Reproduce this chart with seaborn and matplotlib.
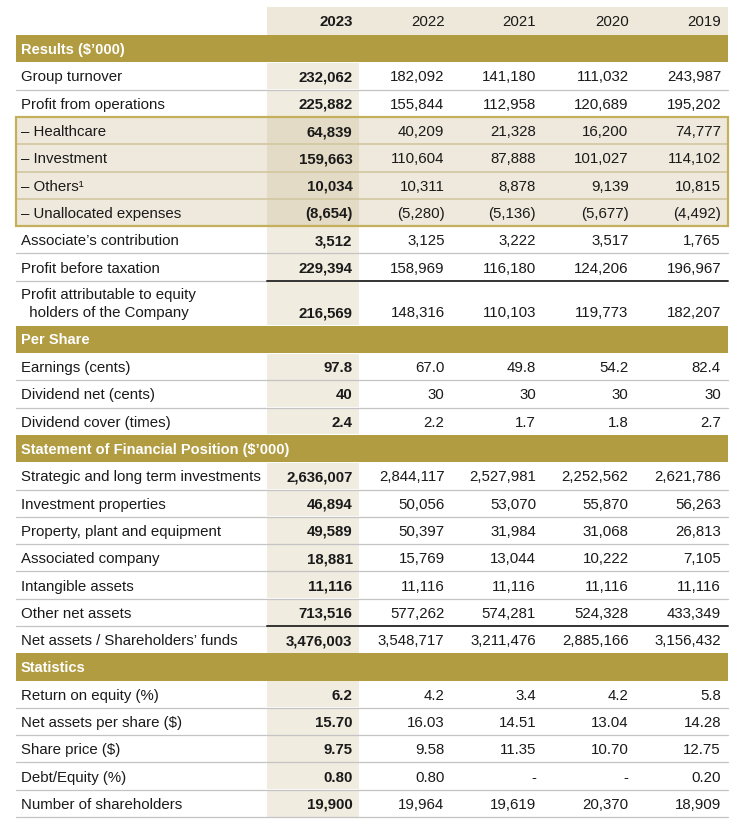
import matplotlib
matplotlib.use("Agg")
import matplotlib.pyplot as plt
from matplotlib.patches import Rectangle
import seaborn as sns

# ---- data ----
years = ["2023", "2022", "2021", "2020", "2019"]

results_labels = ["Group turnover", "Profit from operations", "\u2013 Healthcare", "\u2013 Investment",
                  "\u2013 Others\u00b9", "\u2013 Unallocated expenses", "Associate\u2019s contribution",
                  "Profit before taxation", "Profit attributable to equity\n  holders of the Company"]
results_values = [
    [232062, 182092, 141180, 111032, 243987],
    [225882, 155844, 112958, 120689, 195202],
    [64839, 40209, 21328, 16200, 74777],
    [159663, 110604, 87888, 101027, 114102],
    [10034, 10311, 8878, 9139, 10815],
    [-8654, -5280, -5136, -5677, -4492],
    [3512, 3125, 3222, 3517, 1765],
    [229394, 158969, 116180, 124206, 196967],
    [216569, 148316, 110103, 119773, 182207],
]

per_share_labels = ["Earnings (cents)", "Dividend net (cents)", "Dividend cover (times)"]
per_share_values = [
    [97.8, 67.0, 49.8, 54.2, 82.4],
    [40, 30, 30, 30, 30],
    [2.4, 2.2, 1.7, 1.8, 2.7],
]
per_share_decimals = [1, 0, 1]

position_labels = ["Strategic and long term investments", "Investment properties",
                   "Property, plant and equipment", "Associated company", "Intangible assets",
                   "Other net assets", "Net assets / Shareholders\u2019 funds"]
position_values = [
    [2636007, 2844117, 2527981, 2252562, 2621786],
    [46894, 50056, 53070, 55870, 56263],
    [49589, 50397, 31984, 31068, 26813],
    [18881, 15769, 13044, 10222, 7105],
    [11116, 11116, 11116, 11116, 11116],
    [713516, 577262, 574281, 524328, 433349],
    [3476003, 3548717, 3211476, 2885166, 3156432],
]

stats_labels = ["Return on equity (%)", "Net assets per share ($)", "Share price ($)",
                "Debt/Equity (%)", "Number of shareholders"]
stats_values = [
    [6.2, 4.2, 3.4, 4.2, 5.8],
    [15.70, 16.03, 14.51, 13.04, 14.28],
    [9.75, 9.58, 11.35, 10.70, 12.75],
    [0.80, 0.80, None, None, 0.20],
    [19900, 19964, 19619, 20370, 18909],
]
stats_decimals = [1, 2, 2, 2, 0]

# ---- style ----
GOLD = "#b19c42"
BOX_EDGE = "#c4b05c"
BOX_FILL = "#eee9dc"
BOX_COL = "#e3dbc6"
COL_FILL = "#f1ece0"
HEAD_FILL = "#eee8da"
GREY = "#c4c4c4"
DARK = "#333333"
TXT = "#1a1a1a"

sns.set_theme(style="white")
plt.rcParams['font.family'] = ['Liberation Sans', 'DejaVu Sans']
FS = 10.8
FS_BAR = 10.5


def fmt(v, dec):
	if v is None:
		return "-"
	s = f"{abs(v):,.{dec}f}"
	return f"({s})" if v < 0 else s


# build the row sequence: (kind, label, values, decimals)
layout = [("bar", "Results ($\u2019000)", None, 0)]
for i, (lab, vals) in enumerate(zip(results_labels, results_values)):
	kind = "box" if 2 <= i <= 5 else ("tall" if "\n" in lab else "row")
	layout.append((kind, lab, vals, 0))
layout.append(("bar", "Per Share", None, 0))
for lab, vals, d in zip(per_share_labels, per_share_values, per_share_decimals):
	layout.append(("row", lab, vals, d))
layout.append(("bar", "Statement of Financial Position ($\u2019000)", None, 0))
for lab, vals in zip(position_labels, position_values):
	layout.append(("row", lab, vals, 0))
layout.append(("bar", "Statistics", None, 0))
for lab, vals, d in zip(stats_labels, stats_values, stats_decimals):
	layout.append(("row", lab, vals, d))

dark_after = {"Profit before taxation", "Other net assets"}

fig = plt.figure(figsize=(7.43, 8.37), dpi=100)
ax = fig.add_axes([0, 0, 1, 1])
ax.set_xlim(0, 743)
ax.set_ylim(837, 0)
ax.axis("off")

X0, X1 = 16, 728
C0, C1 = 267, 359
col_right = [352.5, 444.5, 536, 628.5, 721]
label_x = 21
P = 27.3

# header
ax.add_patch(Rectangle((C0, 8), X1 - C0, 28, color=HEAD_FILL, lw=0))
for j, yr in enumerate(years):
	ax.text(col_right[j], 22, yr, ha="right", va="center", fontsize=FS, color=TXT,
			fontweight="bold" if j == 0 else "normal")

y = 36
box_top = None
box_bot = None
for k, (kind, lab, vals, dec) in enumerate(layout):
	h = 45 if kind == "tall" else P
	nxt = layout[k + 1][0] if k + 1 < len(layout) else None
	if kind == "bar":
		ax.add_patch(Rectangle((X0, y), X1 - X0, h, color=GOLD, lw=0))
		ax.text(label_x, y + h / 2, lab, ha="left", va="center", fontsize=FS_BAR,
				fontweight="bold", color="white")
		y += h
		continue
	if kind == "box":
		if box_top is None:
			box_top = y
		box_bot = y + h
		ax.add_patch(Rectangle((X0, y), X1 - X0, h, color=BOX_FILL, lw=0))
		ax.add_patch(Rectangle((C0, y), C1 - C0, h, color=BOX_COL, lw=0))
		if nxt == "box":
			ax.plot([X0, X1], [y + h, y + h], color="#d2c79f", lw=1.2, zorder=3)
	else:
		ax.add_patch(Rectangle((C0, y + 0.5), C1 - C0, h - 1, color=COL_FILL, lw=0))
		if nxt not in ("bar", "box"):
			if lab in dark_after:
				ax.plot([X0, C0], [y + h, y + h], color=GREY, lw=0.9, zorder=3)
				ax.plot([C0, X1], [y + h, y + h], color=DARK, lw=1.4, zorder=3)
			else:
				ax.plot([X0, X1], [y + h, y + h], color=GREY, lw=0.9, zorder=3)
	if kind == "tall":
		l1, l2 = lab.split("\n")
		ax.text(label_x, y + 13.5, l1, ha="left", va="center", fontsize=FS, color=TXT)
		ax.text(label_x, y + 31.5, l2, ha="left", va="center", fontsize=FS, color=TXT)
		ty = y + 31.5
	else:
		ax.text(label_x, y + h / 2 + 0.5, lab, ha="left", va="center", fontsize=FS, color=TXT)
		ty = y + h / 2 + 0.5
	for j, v in enumerate(vals):
		ax.text(col_right[j], ty, fmt(v, dec), ha="right", va="center", fontsize=FS,
				color=TXT, fontweight="bold" if j == 0 else "normal")
	y += h

ax.add_patch(Rectangle((X0, box_top), X1 - X0, box_bot - box_top, fill=False,
					   edgecolor=BOX_EDGE, lw=1.6, zorder=4))

fig.savefig("out.png", dpi=100)
plt.close(fig)
